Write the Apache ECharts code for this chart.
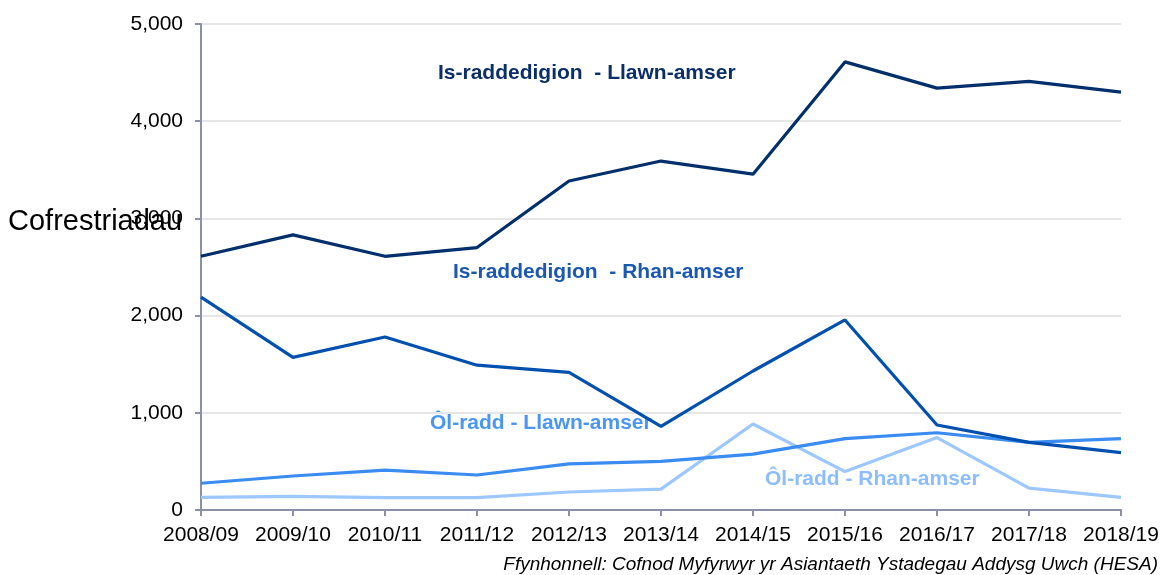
<!DOCTYPE html>
<html>
<head>
<meta charset="utf-8">
<script src="https://cdn.jsdelivr.net/npm/echarts@6/dist/echarts.min.js"></script>
<style>
  html, body { margin: 0; padding: 0; background: #fff; }
  #chart { width: 1163px; height: 575px; }
</style>
</head>
<body>
<div id="chart"></div>
<script>
const years = ['2008/09', '2009/10', '2010/11', '2011/12', '2012/13', '2013/14', '2014/15', '2015/16', '2016/17', '2017/18', '2018/19'];
const isLlawn = [2610, 2830, 2610, 2700, 3385, 3590, 3455, 4610, 4340, 4410, 4300];
const isRhan = [2190, 1570, 1780, 1490, 1415, 860, 1430, 1955, 875, 695, 590];
const olLlawn = [275, 350, 410, 360, 475, 500, 575, 735, 795, 695, 735];
const olRhan = [130, 140, 127, 127, 185, 215, 885, 395, 745, 225, 130];
const yTicks = [0, 1000, 2000, 3000, 4000, 5000];

const names = ['Is-raddedigion  - Llawn-amser', 'Is-raddedigion  - Rhan-amser', 'Ôl-radd - Llawn-amser', 'Ôl-radd - Rhan-amser'];
const colors = ['#002F6C', '#0050B0', '#3A8CF2', '#9CC8FF'];
const labelColors = ['#0B2F6A', '#1A58B4', '#4A96F4', '#8CBEFF'];
const seriesData = [isLlawn, isRhan, olLlawn, olRhan];

const chart = echarts.init(document.getElementById('chart'));

const font = 'Arial, "Liberation Sans", sans-serif';

const option = {
  animation: false,
  grid: { left: 201, right: 42, top: 24, bottom: 65 },
  xAxis: {
    type: 'category',
    data: years,
    boundaryGap: false,
    axisLine: { lineStyle: { color: '#8A90A8', width: 2 } },
    axisTick: { show: true, length: 6, interval: 0, lineStyle: { color: '#8A90A8', width: 2 } },
    axisLabel: { color: '#000', fontSize: 21, fontFamily: font, margin: 15, interval: 0 },
    splitLine: { show: false }
  },
  yAxis: {
    type: 'value',
    min: 0,
    max: 5000,
    interval: 1000,
    axisLine: { show: true, lineStyle: { color: '#8A90A8', width: 2 } },
    axisTick: { show: true, length: 6, lineStyle: { color: '#8A90A8', width: 2 } },
    axisLabel: {
      color: '#000', fontSize: 21, fontFamily: font, margin: 18,
      formatter: v => yTicks.includes(v) ? v.toLocaleString('en-GB') : ''
    },
    splitLine: { lineStyle: { color: '#E6E6E8', width: 2 } }
  },
  series: seriesData.map((d, i) => ({
    name: names[i],
    type: 'line',
    data: d,
    symbol: 'none',
    lineStyle: { color: colors[i], width: 3.2 },
    z: 10 - i
  })),
  graphic: [
    { type: 'text', left: 8, top: 207, style: { text: 'Cofrestriadau', fontSize: 29, fontFamily: font, fill: '#000' } },
    { type: 'text', left: 438, top: 63, style: { text: names[0], fontSize: 21, fontWeight: 'bold', fontFamily: font, fill: labelColors[0] } },
    { type: 'text', left: 453, top: 262, style: { text: names[1], fontSize: 21, fontWeight: 'bold', fontFamily: font, fill: labelColors[1] } },
    { type: 'text', left: 430, top: 413, style: { text: names[2], fontSize: 21, fontWeight: 'bold', fontFamily: font, fill: labelColors[2] } },
    { type: 'text', left: 765, top: 469, style: { text: names[3], fontSize: 21, fontWeight: 'bold', fontFamily: font, fill: labelColors[3] } },
    { type: 'text', right: 5, top: 555, style: { text: 'Ffynhonnell: Cofnod Myfyrwyr yr Asiantaeth Ystadegau Addysg Uwch (HESA)', fontSize: 19, fontStyle: 'italic', fontFamily: font, fill: '#000' } }
  ]
};

chart.setOption(option);
</script>
</body>
</html>
